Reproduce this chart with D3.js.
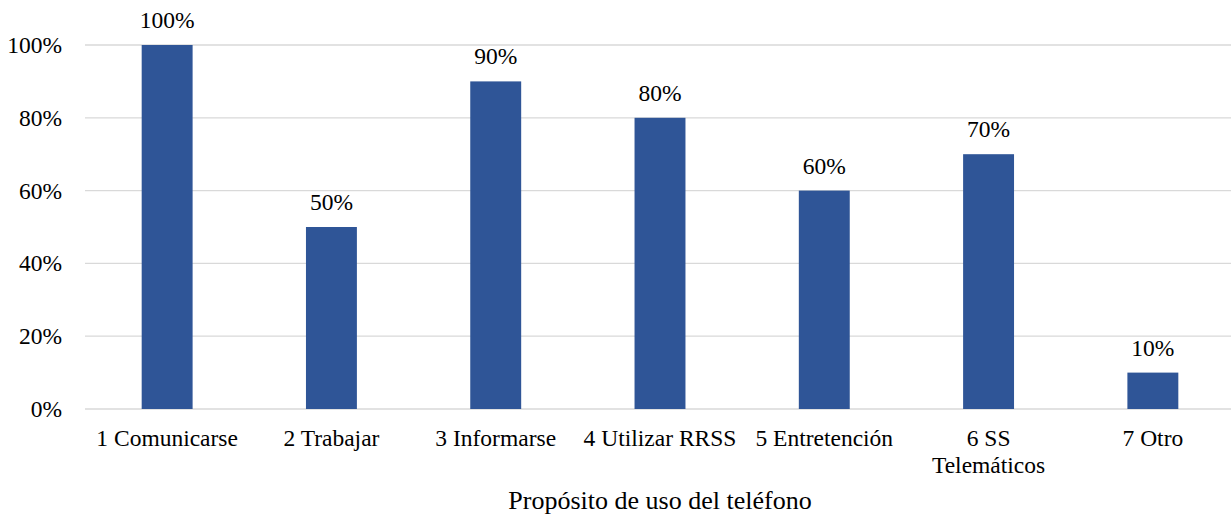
<!DOCTYPE html>
<html lang="es">
<head>
<meta charset="UTF-8">
<title>Propósito de uso del teléfono</title>
<script src="https://d3js.org/d3.v7.min.js"></script>
<style>
    body { margin: 0; background: #fff; }
    svg text { font-family: "Liberation Serif", "Times New Roman", serif; fill: #000; }
</style>
</head>
<body>
<div id="chart"></div>
<script>
    // Chart data
    const categories = ["1 Comunicarse", "2 Trabajar", "3 Informarse", "4 Utilizar RRSS", "5 Entretención", "6 SS Telemáticos", "7 Otro"];
    const values = [100, 50, 90, 80, 60, 70, 10];
    const yTicks = [0, 20, 40, 60, 80, 100];
    const xTitle = "Propósito de uso del teléfono";

    const width = 1231, height = 516;
    const margin = { top: 45, right: -4, bottom: 107, left: 85 };
    const fontSize = 23.5;

    const svg = d3.select("#chart").append("svg")
        .attr("width", width)
        .attr("height", height);

    const x = d3.scaleBand()
        .domain(categories)
        .range([margin.left, width - margin.right])
        .paddingInner(0.69)
        .paddingOuter(0.345);

    const y = d3.scaleLinear()
        .domain([0, 100])
        .range([height - margin.bottom, margin.top]);

    // gridlines
    svg.append("g")
        .selectAll("line")
        .data(yTicks)
        .enter().append("line")
        .attr("x1", margin.left)
        .attr("x2", width)
        .attr("y1", d => y(d))
        .attr("y2", d => y(d))
        .attr("stroke", "#d9d9d9")
        .attr("stroke-width", 1.3);

    // y axis labels
    const yAxis = svg.append("g")
        .attr("transform", `translate(${margin.left - 23},0)`)
        .call(d3.axisLeft(y).tickValues(yTicks).tickFormat(d => d + "%").tickSize(0).tickPadding(0));
    yAxis.select(".domain").remove();
    yAxis.selectAll("text").attr("font-size", fontSize).attr("fill", "#000");

    // bars
    svg.append("g")
        .selectAll("rect")
        .data(values)
        .enter().append("rect")
        .attr("x", (d, i) => x(categories[i]))
        .attr("y", d => y(d))
        .attr("width", x.bandwidth())
        .attr("height", d => y(0) - y(d))
        .attr("fill", "#2f5597");

    // value labels
    svg.append("g")
        .selectAll("text")
        .data(values)
        .enter().append("text")
        .attr("x", (d, i) => x(categories[i]) + x.bandwidth() / 2)
        .attr("y", d => y(d) - 17)
        .attr("text-anchor", "middle")
        .attr("font-size", fontSize)
        .text(d => d + "%");

    // x axis labels (wrap long ones)
    const step = x.step();
    const xLabels = svg.append("g");
    categories.forEach(c => {
        const cx = x(c) + x.bandwidth() / 2;
        const t = xLabels.append("text")
            .attr("x", cx)
            .attr("y", y(0) + 37)
            .attr("text-anchor", "middle")
            .attr("font-size", fontSize);
        const words = c.split(" ");
        let line = [];
        let tspan = t.append("tspan").attr("x", cx).attr("dy", 0);
        words.forEach(w => {
            line.push(w);
            tspan.text(line.join(" "));
            if (tspan.node().getComputedTextLength() > step - 4 && line.length > 1) {
                line.pop();
                tspan.text(line.join(" "));
                line = [w];
                tspan = t.append("tspan").attr("x", cx).attr("dy", "1.15em").text(w);
            }
        });
    });

    // axis title
    svg.append("text")
        .attr("x", (margin.left + width - margin.right) / 2)
        .attr("y", 509)
        .attr("text-anchor", "middle")
        .attr("font-size", 26)
        .text(xTitle);
</script>
</body>
</html>
